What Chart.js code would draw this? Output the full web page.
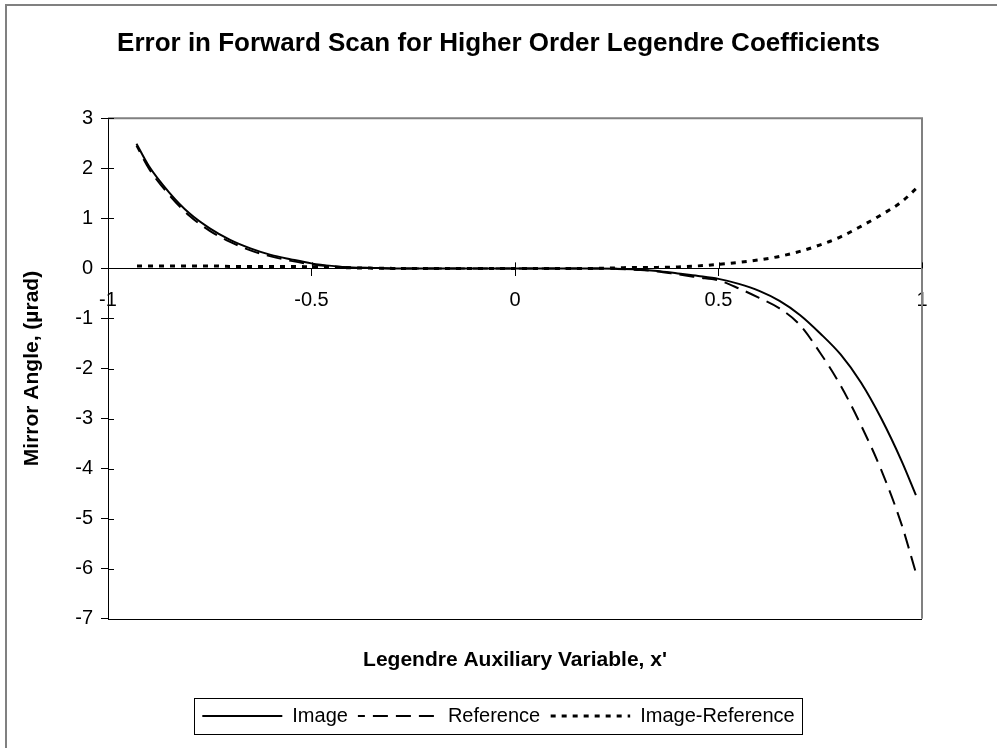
<!DOCTYPE html>
<html>
<head>
<meta charset="utf-8">
<title>Error in Forward Scan for Higher Order Legendre Coefficients</title>
<script src="https://cdn.jsdelivr.net/npm/chart.js@4.4.1/dist/chart.umd.min.js"></script>
<style>
  html, body { margin: 0; padding: 0; background: #fff; }
  #wrap { width: 997px; height: 748px; position: relative; }
</style>
</head>
<body>
<div id="wrap"><canvas id="scanChart"></canvas></div>
<script>
// Legendre auxiliary variable x'
const xValues = [-0.93, -0.9, -0.85, -0.8, -0.75, -0.7, -0.65, -0.6, -0.55, -0.5,
                 -0.45, -0.4, -0.35, -0.3, -0.2, -0.1, 0, 0.1, 0.2, 0.25,
                 0.3, 0.35, 0.4, 0.45, 0.5, 0.55, 0.6, 0.65, 0.7, 0.75,
                 0.8, 0.85, 0.9, 0.95, 0.985];

// mirror angle in microradians
const imageValues = [2.49, 2.05, 1.52, 1.10, 0.80, 0.57, 0.40, 0.27, 0.18, 0.10,
                     0.05, 0.02, 0.01, 0, 0, 0, 0, 0, 0, -0.005,
                     -0.02, -0.05, -0.10, -0.15, -0.21, -0.31, -0.45, -0.65, -0.93, -1.30,
                     -1.72, -2.28, -3.00, -3.85, -4.53];

const referenceValues = [2.45, 2.00, 1.47, 1.05, 0.75, 0.53, 0.36, 0.24, 0.15, 0.08,
                         0.04, 0.015, 0.005, 0, 0, 0, 0, 0, 0, -0.01,
                         -0.03, -0.06, -0.12, -0.18, -0.24, -0.40, -0.59, -0.80, -1.13, -1.69,
                         -2.34, -3.13, -4.03, -5.12, -6.08];

const differenceValues = [0.05, 0.05, 0.05, 0.05, 0.05, 0.04, 0.04, 0.04, 0.04, 0.03,
                          0.02, 0.01, 0.005, 0, 0, 0, 0, 0, 0, 0.01,
                          0.02, 0.02, 0.03, 0.05, 0.08, 0.12, 0.17, 0.24, 0.34, 0.47,
                          0.63, 0.84, 1.07, 1.33, 1.59];

const xTickValues = [-1, -0.5, 0, 0.5, 1];
const yTickValues = [3, 2, 1, 0, -1, -2, -3, -4, -5, -6, -7];

const FONT = 'Arial, "Liberation Sans", Helvetica, sans-serif';

function toPoints(ys) {
    return xValues.map((x, i) => ({ x: x, y: ys[i] }));
}

// white page, outer frame, plot box, cross ticks and the legend frame
const framePlugin = {
    id: 'framePlugin',
    beforeDraw(chart) {
        const ctx = chart.ctx;
        ctx.save();
        ctx.fillStyle = '#fff';
        ctx.fillRect(0, 0, chart.width, chart.height);
        ctx.strokeStyle = '#808080';
        ctx.lineWidth = 2;
        ctx.strokeRect(6, 5, chart.width + 20, chart.height + 20);
        ctx.restore();
    },
    beforeDatasetsDraw(chart) {
        const ctx = chart.ctx;
        const a = chart.chartArea;
        const xs = chart.scales.x;
        const ys = chart.scales.y;
        ctx.save();
        ctx.strokeStyle = '#808080';
        ctx.lineWidth = 2;
        ctx.beginPath();
        ctx.moveTo(a.left, a.top);
        ctx.lineTo(a.right, a.top);
        ctx.lineTo(a.right, a.bottom);
        ctx.stroke();
        ctx.strokeStyle = '#000';
        ctx.lineWidth = 1;
        ctx.beginPath();
        ctx.moveTo(a.left, Math.round(a.bottom) + 0.5);
        ctx.lineTo(a.right, Math.round(a.bottom) + 0.5);
        // inner half of the tick marks
        yTickValues.forEach(v => {
            const py = Math.round(ys.getPixelForValue(v)) + 0.5;
            ctx.moveTo(a.left, py);
            ctx.lineTo(a.left + 6, py);
        });
        const y0 = ys.getPixelForValue(0);
        xTickValues.forEach(v => {
            const px = Math.round(xs.getPixelForValue(v)) + 0.5;
            ctx.moveTo(px, y0);
            ctx.lineTo(px, y0 - 6);
        });
        ctx.stroke();
        ctx.restore();
    },
    afterDraw(chart) {
        const boxes = chart.legend && chart.legend.legendHitBoxes;
        if (!boxes || !boxes.length) return;
        const left = Math.min(...boxes.map(b => b.left));
        const right = Math.max(...boxes.map(b => b.left + b.width));
        const top = Math.min(...boxes.map(b => b.top));
        const bottom = Math.max(...boxes.map(b => b.top + b.height));
        const ctx = chart.ctx;
        ctx.save();
        ctx.strokeStyle = '#000';
        ctx.lineWidth = 1;
        ctx.strokeRect(Math.round(left - 8) + 0.5, Math.round(top - 8) + 0.5,
                       Math.round(right - left + 16), Math.round(bottom - top + 16));
        ctx.restore();
    }
};

// legend entries keep the dash pattern of their line
function legendLabels(chart) {
    return chart.data.datasets.map((ds, i) => ({
        text: ds.label,
        datasetIndex: i,
        pointStyle: 'line',
        fillStyle: '#000',
        strokeStyle: '#000',
        fontColor: '#000',
        lineWidth: ds.borderWidth,
        lineDash: ds.borderDash || [],
        lineDashOffset: ds.borderDashOffset || 0,
        hidden: false
    }));
}

const ctx = document.getElementById('scanChart').getContext('2d');

new Chart(ctx, {
    type: 'line',
    data: {
        datasets: [{
            label: 'Image',
            data: toPoints(imageValues),
            borderColor: '#000',
            borderWidth: 2
        }, {
            label: 'Reference',
            data: toPoints(referenceValues),
            borderColor: '#000',
            borderWidth: 2,
            borderDash: [15, 8],
            borderDashOffset: 8
        }, {
            label: 'Image-Reference',
            data: toPoints(differenceValues),
            borderColor: '#000',
            borderWidth: 3,
            borderDash: [5, 6],
            borderDashOffset: 10.5
        }]
    },
    options: {
        responsive: true,
        maintainAspectRatio: false,
        animation: false,
        parsing: false,
        elements: {
            point: { radius: 0, hoverRadius: 0 },
            line: { cubicInterpolationMode: 'monotone', fill: false, borderCapStyle: 'butt' }
        },
        layout: {
            padding: { left: 0, right: 0, top: 0, bottom: 12 }
        },
        plugins: {
            tooltip: { enabled: false },
            title: {
                display: true,
                text: 'Error in Forward Scan for Higher Order Legendre Coefficients',
                color: '#000',
                font: { family: FONT, size: 26, weight: 'bold' },
                padding: { top: 28, bottom: 59 }
            },
            subtitle: {
                display: true,
                position: 'bottom',
                fullSize: false,
                text: "Legendre Auxiliary Variable, x'",
                color: '#000',
                font: { family: FONT, size: 21, weight: 'bold' },
                padding: { top: 29, bottom: 23 }
            },
            legend: {
                position: 'bottom',
                weight: 3000,
                labels: {
                    color: '#000',
                    font: { family: FONT, size: 20 },
                    usePointStyle: true,
                    pointStyle: 'line',
                    pointStyleWidth: 80,
                    padding: 10,
                    generateLabels: legendLabels
                }
            }
        },
        scales: {
            x: {
                type: 'linear',
                position: { y: 0 },
                min: -1,
                max: 1,
                afterBuildTicks: s => { s.ticks = xTickValues.map(v => ({ value: v })); },
                afterFit: s => { s.height = 0; },
                ticks: {
                    color: '#000',
                    font: { family: FONT, size: 20 },
                    padding: 13,
                    maxRotation: 0,
                    autoSkip: false,
                    callback: v => String(v)
                },
                grid: { drawOnChartArea: false, tickLength: 7, color: '#000', tickColor: '#000' },
                border: { color: '#000', width: 1 }
            },
            y: {
                type: 'linear',
                min: -7,
                max: 3,
                afterBuildTicks: s => { s.ticks = yTickValues.map(v => ({ value: v })); },
                afterFit: s => { s.width = 108; },
                title: {
                    display: true,
                    text: 'Mirror Angle, (µrad)',
                    color: '#000',
                    font: { family: FONT, size: 21, weight: 'bold' },
                    padding: { top: 20, bottom: 0 }
                },
                ticks: {
                    color: '#000',
                    font: { family: FONT, size: 20 },
                    padding: 8,
                    callback: v => String(v)
                },
                grid: { drawOnChartArea: false, tickLength: 7, color: '#000', tickColor: '#000' },
                border: { color: '#000', width: 1 }
            },
            // empty margin on the right of the plot box
            margin: {
                type: 'linear',
                position: 'right',
                afterFit: s => { s.width = 75; },
                ticks: { display: false },
                grid: { display: false, drawTicks: false },
                border: { display: false }
            }
        }
    },
    plugins: [framePlugin]
});
</script>
</body>
</html>
